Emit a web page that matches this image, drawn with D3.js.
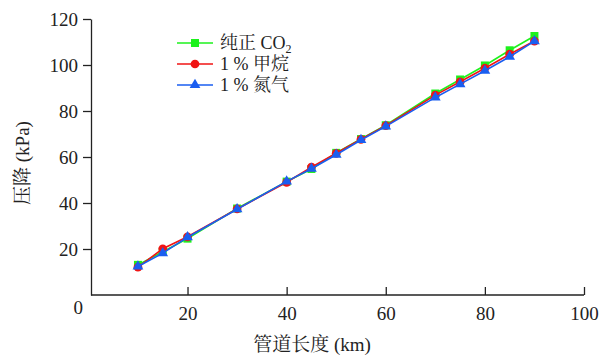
<!DOCTYPE html>
<html>
<head>
<meta charset="utf-8">
<script src="https://cdn.jsdelivr.net/npm/d3@7"></script>
<style>
  body { margin: 0; background: #fff; }
</style>
</head>
<body>
<svg id="chart" width="602" height="356"></svg>
<script>
// pipe length (km)
const lengths = [10, 15, 20, 30, 40, 45, 50, 55, 60, 70, 75, 80, 85, 90];
// pressure drop (kPa)
const pureCO2 = [13.1, 18.8, 24.5, 37.6, 49.3, 54.8, 61.8, 67.8, 73.8, 87.6, 93.7, 99.8, 106.4, 112.6];
const methane = [12.1, 20.1, 25.3, 37.4, 49, 55.6, 61.6, 67.7, 73.6, 86.9, 92.7, 98.6, 104.7, 110.4];
const nitrogen = [12.4, 18.2, 25.1, 37.3, 49.4, 54.9, 61, 67.4, 73.3, 85.9, 91.7, 97.5, 103.6, 110.4];
const xTicks = [20, 40, 60, 80, 100];
const yTicks = [20, 40, 60, 80, 100, 120];

const FONT = "'Liberation Serif', 'Noto Serif CJK SC', serif";
const INK = "#222";

const series = [
  { name: "pure", values: pureCO2, color: "#1cf21c", shape: d3.symbolSquare, size: 64 },
  { name: "ch4", values: methane, color: "#f01414", shape: d3.symbolCircle, size: 60 },
  { name: "n2", values: nitrogen, color: "#1a5ef0", shape: d3.symbolTriangle, size: 50 }
];

const svg = d3.select("#chart");

const x = d3.scaleLinear().domain([0, 100]).range([88.4, 584]);
const y = d3.scaleLinear().domain([0, 120]).range([295, 19]);

// x axis, ticks pointing up into the plot
const xAxis = svg.append("g")
  .attr("transform", "translate(0,295)")
  .call(d3.axisBottom(x).tickValues(xTicks).tickSizeInner(-8).tickSizeOuter(0).tickPadding(12));
xAxis.select(".domain").attr("d", "M91,0H584").attr("stroke", INK).attr("stroke-width", 1.3);
xAxis.selectAll(".tick line").attr("stroke", INK).attr("stroke-width", 1.3);
xAxis.selectAll(".tick text")
  .style("font-family", FONT).style("font-size", "19px").attr("fill", INK);

// y axis, ticks pointing out
const yAxis = svg.append("g")
  .attr("transform", "translate(91,0)")
  .call(d3.axisLeft(y).tickValues(yTicks).tickSizeInner(8).tickSizeOuter(0).tickPadding(5));
yAxis.select(".domain").attr("stroke", INK).attr("stroke-width", 1.3);
yAxis.selectAll(".tick line").attr("stroke", INK).attr("stroke-width", 1.3);
yAxis.selectAll(".tick text")
  .style("font-family", FONT).style("font-size", "19px").attr("fill", INK);

// shared origin label
svg.append("text")
  .attr("x", 83).attr("y", 314)
  .attr("text-anchor", "end")
  .style("font-family", FONT).style("font-size", "19px").attr("fill", INK)
  .text("0");

// axis titles
svg.append("text")
  .attr("x", 312).attr("y", 351)
  .attr("text-anchor", "middle")
  .style("font-family", FONT).style("font-size", "19px").attr("fill", INK)
  .text("管道长度 (km)");

svg.append("text")
  .attr("text-anchor", "middle")
  .attr("transform", "translate(29,163)rotate(-90)")
  .style("font-family", FONT).style("font-size", "19px").attr("fill", INK)
  .text("压降 (kPa)");

const line = d3.line()
  .x((d, i) => x(lengths[i]))
  .y(d => y(d));

for (const s of series) {
  svg.append("path")
    .datum(s.values)
    .attr("fill", "none")
    .attr("stroke", s.color)
    .attr("stroke-width", 1.6)
    .attr("d", line);

  svg.append("g")
    .selectAll("path")
    .data(s.values)
    .enter()
    .append("path")
      .attr("transform", (d, i) => "translate(" + x(lengths[i]) + "," + y(d) + ")")
      .attr("d", d3.symbol().type(s.shape).size(s.size))
      .attr("fill", s.color);
}

// legend
const legend = svg.append("g");
const labels = [
  ["纯正 CO", "2"],
  ["1 % 甲烷", ""],
  ["1 % 氮气", ""]
];
series.forEach((s, i) => {
  const ly = 43 + i * 21;
  legend.append("line")
    .attr("x1", 177).attr("x2", 213)
    .attr("y1", ly).attr("y2", ly)
    .attr("stroke", s.color).attr("stroke-width", 1.6);
  legend.append("path")
    .attr("transform", "translate(195," + ly + ")")
    .attr("d", d3.symbol().type(s.shape).size(s.size))
    .attr("fill", s.color);
  const t = legend.append("text")
    .attr("x", 220).attr("y", ly + 6)
    .style("font-family", FONT).style("font-size", "18px").attr("fill", INK)
    .text(labels[i][0]);
  if (labels[i][1]) {
    t.append("tspan")
      .attr("dy", 4)
      .style("font-size", "12px")
      .text(labels[i][1]);
  }
});
</script>
</body>
</html>
